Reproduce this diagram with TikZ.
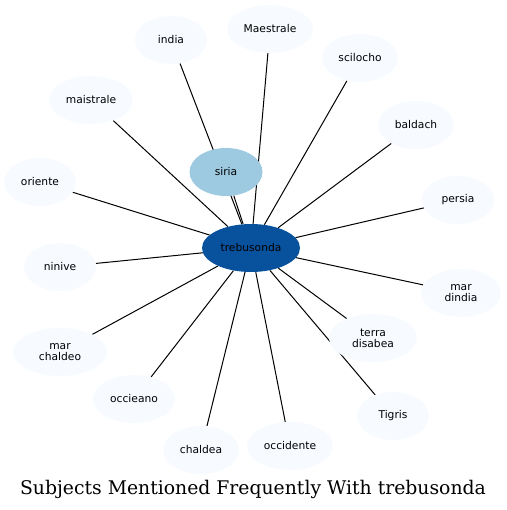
\documentclass[tikz,border=0pt]{standalone}
\usepackage{fontspec}
\newfontfamily\lblfont{DejaVu Sans}
\newfontfamily\ttlfont{DejaVu Serif}
\usepackage{xcolor}
\usepackage{tikz}
\usetikzlibrary{shapes.geometric,backgrounds}

\definecolor{hubblue}{HTML}{08519C}
\definecolor{midblue}{HTML}{9ECAE1}
\definecolor{paleblue}{HTML}{F7FBFF}

\begin{document}
\begin{tikzpicture}[
  x=1pt, y=-1pt,
  font=\lblfont\fontsize{10.7}{10.7}\selectfont,
  sub/.style={ellipse,fill=paleblue,inner sep=0pt,minimum height=48pt,align=center},
  hub/.style={ellipse,fill=hubblue,inner sep=0pt,minimum width=98pt,minimum height=48pt},
  near/.style={ellipse,fill=midblue,inner sep=0pt,minimum width=73pt,minimum height=48pt},
  rel/.style={draw=black,line width=1pt}
]
\useasboundingbox (0,0) rectangle (506,510);

\node[hub] (treb) at (251,248) {trebusonda};
\node[near] (siria) at (226,172) {siria};
\node[sub,minimum width=72pt] (india) at (171,40) {india};
\node[sub,minimum width=86pt] (maes) at (270,29) {Maestrale};
\node[sub,minimum width=76pt] (scil) at (360,58) {scilocho};
\node[sub,minimum width=76pt] (bald) at (416,125) {baldach};
\node[sub,minimum width=84pt] (mais) at (91,100) {maistrale};
\node[sub,minimum width=72pt] (orie) at (40,182) {oriente};
\node[sub,minimum width=72pt] (pers) at (458,200) {persia};
\node[sub,minimum width=72pt] (nini) at (60,267) {ninive};
\node[sub,minimum width=80pt] (dind) at (461,293) {mar\\dindia};
\node[sub,minimum width=88pt] (saba) at (373,338) {terra\\disabea};
\node[sub,minimum width=94pt] (chdo) at (60,352) {mar\\chaldeo};
\node[sub,minimum width=82pt] (occi) at (134,399) {occieano};
\node[sub,minimum width=72pt] (tigr) at (393,416) {Tigris};
\node[sub,minimum width=76pt] (chda) at (201,450) {chaldea};
\node[sub,minimum width=86pt] (occd) at (290,446) {occidente};

% edges go under the nodes
\begin{pgfonlayer}{background}
\draw[rel] (siria) -- (treb);
\foreach \t in {india,maes,scil,bald,mais,orie,pers,nini,dind,saba,chdo,occi,tigr,chda,occd}
  \draw[rel] (\t) -- (treb);
\end{pgfonlayer}

\node[font=\ttlfont\fontsize{18.8}{22}\selectfont] (title) at (253,489) {Subjects Mentioned Frequently With trebusonda};
\end{tikzpicture}
\end{document}
